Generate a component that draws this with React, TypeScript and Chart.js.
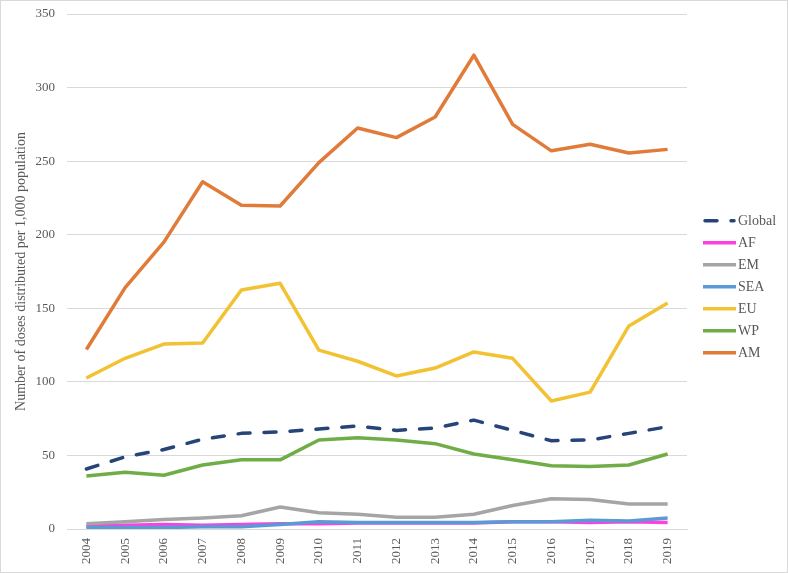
import React, { useEffect, useRef } from "react";
import { Chart, registerables } from "chart.js";

Chart.register(...registerables);

const years = ["2004","2005","2006","2007","2008","2009","2010","2011","2012","2013","2014","2015","2016","2017","2018","2019"];
const globalVals = [40.8, 49, 54, 61, 65, 66, 68, 70, 67, 68.6, 74, 67, 60, 60.5, 65, 69.5];
const afVals = [2, 2.5, 3, 2.5, 3, 3.5, 3.5, 4, 4, 4, 4, 5, 5, 4.5, 5, 4.5];
const emVals = [3.5, 5, 6.5, 7.5, 9, 15, 11, 10, 8, 8, 10, 16, 20.5, 20, 17, 17];
const seaVals = [1, 1, 1, 1.5, 1.5, 3, 5, 4.5, 4.5, 4.5, 4.5, 5, 5, 6, 5.5, 7.5];
const euVals = [102.6, 116, 125.7, 126.4, 162.4, 167, 121.6, 114, 104, 109.4, 120.3, 116, 87, 93, 138, 153.6];
const wpVals = [36, 38.5, 36.5, 43.5, 47, 47, 60.5, 62, 60.5, 58, 51, 47, 43, 42.5, 43.5, 51];
const amVals = [122, 164, 195, 236, 220, 219.5, 249, 272.5, 266, 280, 322, 275, 257, 261.5, 255.5, 258];

const seriesNames = ["Global", "AF", "EM", "SEA", "EU", "WP", "AM"];
const seriesData = [globalVals, afVals, emVals, seaVals, euVals, wpVals, amVals];
const seriesColors = ["#264478", "#FF40E0", "#A5A5A5", "#5B9BD5", "#F2C233", "#70AD47", "#E07B39"];

const FONT = "'Liberation Serif', 'Times New Roman', serif";
const GLOBAL_DASH = [12, 14];

const sideLegend = {
  id: "sideLegend",
  afterDraw(chart: any) {
    const ctx = chart.ctx;
    const x0 = 702;
    const x1 = 735;
    const yStart = 219.7;
    const step = 22;
    ctx.save();
    chart.data.datasets.forEach((ds: any, i: number) => {
      const y = yStart + i * step;
      ctx.beginPath();
      ctx.strokeStyle = ds.borderColor;
      ctx.lineWidth = 3.5;
      if (ds.borderDash && ds.borderDash.length) {
        ctx.setLineDash(ds.borderDash);
        ctx.lineCap = "round";
        ctx.moveTo(x0 + 2, y);
        ctx.lineTo(x1 - 2, y);
      } else {
        ctx.setLineDash([]);
        ctx.lineCap = "butt";
        ctx.moveTo(x0, y);
        ctx.lineTo(x1, y);
      }
      ctx.stroke();
      ctx.setLineDash([]);
      ctx.fillStyle = "#595959";
      ctx.font = "14px " + FONT;
      ctx.textBaseline = "middle";
      ctx.textAlign = "left";
      ctx.fillText(ds.label, x1 + 2, y + 1);
    });
    ctx.restore();
  },
};

export default function App() {
  const canvasRef = useRef<HTMLCanvasElement>(null);

  useEffect(() => {
    const canvas = canvasRef.current;
    if (!canvas) return;
    const chart = new Chart(canvas, {
      type: "line",
      data: {
        labels: years,
        datasets: seriesNames.map((name, i) => ({
          label: name,
          data: seriesData[i],
          borderColor: seriesColors[i],
          backgroundColor: seriesColors[i],
          borderWidth: 3.5,
          borderDash: i === 0 ? GLOBAL_DASH : [],
          borderCapStyle: i === 0 ? "round" : "butt",
          borderJoinStyle: "round",
          pointRadius: 0,
          pointHoverRadius: 0,
          tension: 0,
          fill: false,
          order: -i,
        })),
      },
      plugins: [sideLegend],
      options: {
        animation: false,
        responsive: false,
        maintainAspectRatio: false,
        layout: { padding: { left: 12, right: 100, top: 13, bottom: 0 } },
        plugins: {
          tooltip: { enabled: false },
          legend: { display: false },
        },
        scales: {
          x: {
            offset: true,
            grid: { display: false },
            border: { display: true, color: "#d9d9d9", width: 1 },
            afterFit: (scale: any) => {
              scale.height = 43;
            },
            ticks: {
              minRotation: 90,
              maxRotation: 90,
              autoSkip: false,
              color: "#595959",
              padding: 1,
              font: { family: FONT, size: 13 },
            },
          },
          y: {
            min: 0,
            max: 350,
            afterFit: (scale: any) => {
              scale.width = 54;
              scale.paddingTop = 0;
              scale.paddingBottom = 0;
            },
            ticks: {
              stepSize: 50,
              color: "#595959",
              padding: 12,
              font: { family: FONT, size: 13 },
            },
            grid: { color: "#d9d9d9", drawTicks: false, lineWidth: 1 },
            border: { display: false },
            title: {
              display: true,
              text: "Number of doses distributed per 1,000 population",
              color: "#595959",
              font: { family: FONT, size: 14 },
              padding: { top: 0, bottom: 0 },
            },
          },
        },
      },
    });
    return () => chart.destroy();
  }, []);

  return (
    <div
      style={{
        position: "absolute",
        left: 0,
        top: 0,
        width: 788,
        height: 573,
        border: "1px solid #d9d9d9",
        boxSizing: "border-box",
        background: "#fff",
      }}
    >
      <canvas ref={canvasRef} width={786} height={571} style={{ display: "block" }} />
    </div>
  );
}
